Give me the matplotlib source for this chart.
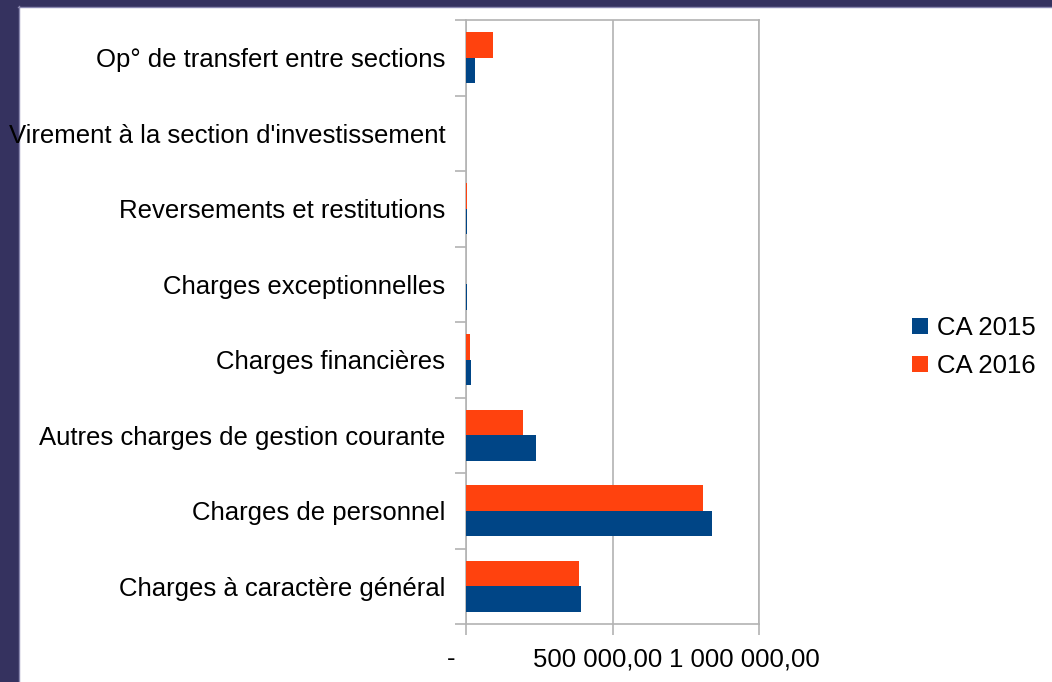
import numpy as np
import matplotlib
matplotlib.use('Agg')
import matplotlib.pyplot as plt
import matplotlib.transforms as mtransforms
from matplotlib.patches import Rectangle

plt.rcParams['font.family'] = ['Liberation Sans', 'DejaVu Sans']

categories = ["Charges à caractère général", "Charges de personnel",
              "Autres charges de gestion courante", "Charges financières",
              "Charges exceptionnelles", "Reversements et restitutions",
              "Virement à la section d'investissement", "Op° de transfert entre sections"]
ca2015 = [392000, 840000, 239000, 16000, 2500, 2500, 0, 31000]
ca2016 = [385000, 809000, 194000, 13000, 0, 3000, 0, 91000]
xticks = [0, 500000, 1000000]
xlabels = ['-', '500 000,00', '1 000 000,00']

W, H = 1052, 682
fs = 18.5
fig = plt.figure(figsize=(W / 100, H / 100), dpi=100)
fig.patch.set_facecolor('white')

# dark frame on left and top
frame = '#35325f'
fig.patches.append(Rectangle((0, 0), 18 / W, 1, transform=fig.transFigure, color=frame, zorder=-2))
fig.patches.append(Rectangle((0, 1 - 6 / H), 1, 6 / H, transform=fig.transFigure, color=frame, zorder=-2))
fig.lines.append(plt.Line2D([18.5 / W, 18.5 / W], [0, 1 - 6 / H], transform=fig.transFigure,
                            color='#8a88b0', lw=1, zorder=-1))
fig.lines.append(plt.Line2D([18 / W, 1], [1 - 6.5 / H, 1 - 6.5 / H], transform=fig.transFigure,
                            color='#8a88b0', lw=1, zorder=-1))

ax = fig.add_axes([466 / W, 1 - 624 / H, (759 - 466) / W, (624 - 20) / H])
y = np.arange(len(categories))
h = 0.34
ax.barh(y - h / 2, ca2015, height=h, color='#004586', label='CA 2015', zorder=3)
ax.barh(y + h / 2, ca2016, height=h, color='#ff420e', label='CA 2016', zorder=3)

ax.set_xlim(0, 1000000)
ax.set_ylim(-0.5, len(categories) - 0.5)
ax.set_xticks(xticks)
ax.set_xticklabels([])
# x labels sit a bit left of their ticks
offset = mtransforms.ScaledTranslation(-15 / 100, -35 / 100, fig.dpi_scale_trans)
for xv, lab in zip(xticks, xlabels):
    ax.text(xv, 0, lab, transform=ax.get_xaxis_transform() + offset,
            ha='center', va='center', fontsize=fs)

ax.set_yticks(y)
ax.set_yticklabels(categories, fontsize=fs)
ax.set_yticks(np.arange(len(categories) + 1) - 0.5, minor=True)
ax.tick_params(axis='y', which='major', length=0, pad=15)
ax.tick_params(axis='y', which='minor', length=8, color='#b3b3b3', width=1.2)
ax.tick_params(axis='x', length=8, color='#b3b3b3', width=1.2)

ax.grid(axis='x', color='#b3b3b3', lw=1.2, zorder=0)
for s in ax.spines.values():
    s.set_color('#b3b3b3')
    s.set_linewidth(1.2)

ax.legend(loc='center left', bbox_to_anchor=(889 / W, 1 - 347 / H), bbox_transform=fig.transFigure,
          frameon=False, fontsize=fs, handlelength=0.6, handleheight=0.6, handletextpad=0.35,
          labelspacing=0.55)

fig.savefig('out.png', dpi=100)
